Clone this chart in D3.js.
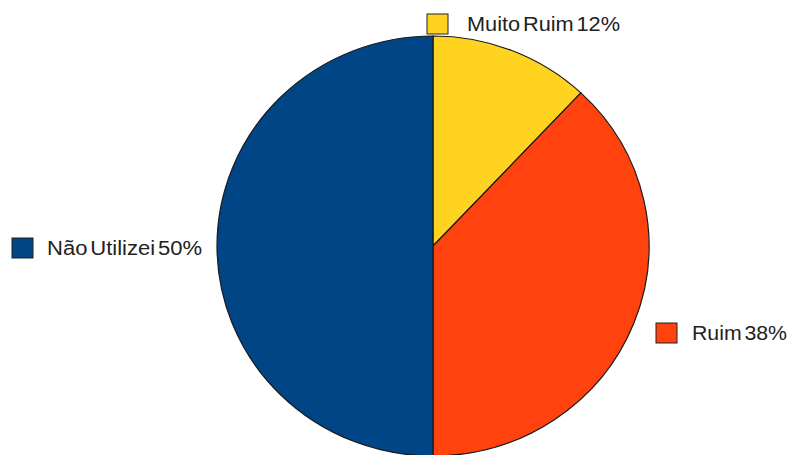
<!DOCTYPE html>
<html>
<head>
<meta charset="utf-8">
<script src="https://cdn.jsdelivr.net/npm/d3@7/dist/d3.min.js"></script>
<style>
  html, body { margin: 0; padding: 0; background: #ffffff; }
  svg { display: block; }
  text { font-family: "Liberation Sans", Arial, sans-serif; }
</style>
</head>
<body>
<div id="chart"></div>
<script>
const categories = ["Muito Ruim", "Ruim", "Não Utilizei"];
const values = [12, 38, 50];
const labels = ["Muito Ruim 12%", "Ruim 38%", "Não Utilizei 50%"];
const colors = ["#ffd320", "#ff420e", "#004586"];

const W = 790, H = 455;
const cx = 433, cy = 246, ry = 210, rx = 216;

// label box positions (square left, vertical centre, text offset, text width)
const labelPos = [
  { x: 427, y: 24, tx: 40, tw: 153 },
  { x: 656, y: 333, tx: 36, tw: 95 },
  { x: 12, y: 248, tx: 35, tw: 155 }
];

const svg = d3.select("#chart").append("svg")
  .attr("width", W).attr("height", H);

const data = categories.map((c, i) => ({ cat: c, value: values[i], label: labels[i], color: colors[i] }));

const pie = d3.pie().sort(null).value(d => d.value).startAngle(0).endAngle(2 * Math.PI);
const arc = d3.arc().innerRadius(0).outerRadius(ry);

const g = svg.append("g")
  .attr("transform", `translate(${cx},${cy}) scale(${rx / ry},1)`);

g.selectAll("path.slice")
  .data(pie(data))
  .join("path")
  .attr("class", "slice")
  .attr("d", arc)
  .attr("fill", d => d.data.color)
  .attr("stroke", "#1a1a1a")
  .attr("stroke-width", 1.2)
  .attr("vector-effect", "non-scaling-stroke");

const lg = svg.selectAll("g.lab")
  .data(data)
  .join("g")
  .attr("class", "lab")
  .attr("transform", (d, i) => `translate(${labelPos[i].x},${labelPos[i].y})`);

lg.append("rect")
  .attr("x", 0).attr("y", -10)
  .attr("width", 21).attr("height", 20)
  .attr("fill", d => d.color)
  .attr("stroke", "#222")
  .attr("stroke-width", 1);

lg.append("text")
  .attr("x", (d, i) => labelPos[i].tx)
  .attr("y", 0)
  .attr("dy", "0.36em")
  .attr("font-size", 20)
  .attr("fill", "#222")
  .attr("textLength", (d, i) => labelPos[i].tw)
  .attr("lengthAdjust", "spacingAndGlyphs")
  .attr("word-spacing", -3)
  .text(d => d.label);
</script>
</body>
</html>
